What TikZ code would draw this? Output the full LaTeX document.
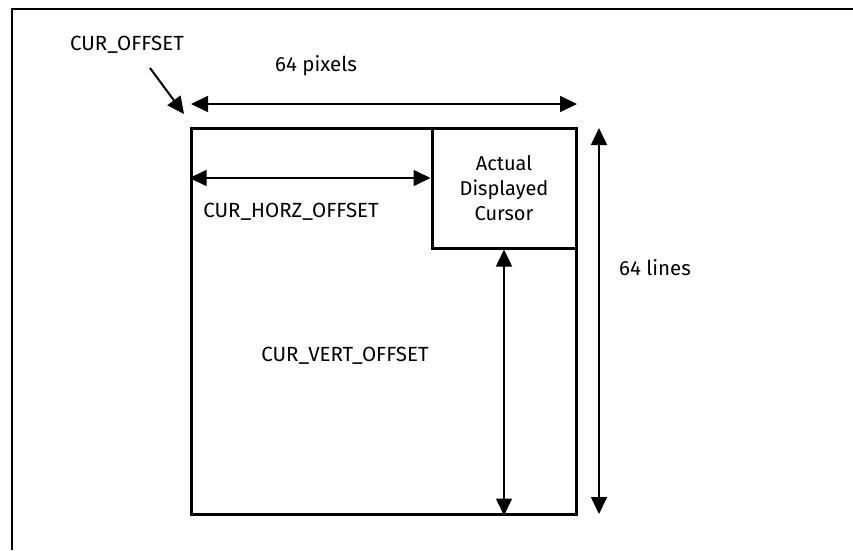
\documentclass[tikz,border=0pt]{standalone}
\usepackage{fontspec}
\setmainfont{Fira Sans}
\usepackage{tikz}
\usetikzlibrary{arrows.meta, positioning}

\begin{document}
\begin{tikzpicture}[x=1pt, y=-1pt,
  >={Triangle[length=17pt,width=16pt]},
  frameline/.style={draw=black, line width=1.6pt},
  area/.style={
    rectangle, draw=black, line width=3pt, inner sep=0pt,
  },
  cursorbox/.style={
    rectangle, draw=black, line width=3pt, inner sep=0pt,
    minimum width=144pt, minimum height=120pt,
    align=center, font=\fontsize{20}{25}\selectfont,
  },
  dim/.style={
    <->, line width=1.6pt,
  },
  lbl/.style={
    font=\fontsize{20.5}{25}\selectfont,
  },
]
\useasboundingbox (0,0) rectangle (853,550);

% --- Outer frame (top and left only) ---
\coordinate (fr) at (853,9);
\coordinate (fc) at (12,9);
\coordinate (fb) at (12,550);
\draw[frameline] (fr) -- (fc) -- (fb);

% --- 64 x 64 cursor area ---
\node[area, minimum width=385pt, minimum height=386pt] (cursor area) at (383.5,321) {};

% --- Actual cursor ---
\node[cursorbox] (cursor) at (504,188) {Actual\\Displayed\\Cursor};

% --- Labels ---
\node[lbl] (offset) at (127,45) {CUR\_OFFSET};
\node[lbl] (pixels) at (316,66) {64 pixels};
\node[lbl] (horz) at (291,212) {CUR\_HORZ\_OFFSET};
\node[lbl] (vert) at (345,356) {CUR\_VERT\_OFFSET};
\node[lbl] (lines) at (655,268) {64 lines};

% --- Dimension arrows ---
\coordinate (off tail) at (150,68);
\coordinate (off tip) at (184,114);
\draw[->, line width=2pt] (off tail) -- (off tip);

\coordinate (px left) at (191,104);
\coordinate (px right) at (577,104);
\draw[dim] (px left) -- (px right);

\coordinate (horz left) at (cursor area.west |- 0,178);
\coordinate (horz right) at (cursor.west |- 0,178);
\draw[dim] (horz left) -- (horz right);

\coordinate (vert top) at (cursor.south);
\coordinate (vert bot) at (cursor.south |- cursor area.south);
\draw[dim] (vert top) -- (vert bot);

\coordinate (ln top) at (599,128);
\coordinate (ln bot) at (599,514);
\draw[dim] (ln top) -- (ln bot);

\end{tikzpicture}
\end{document}
